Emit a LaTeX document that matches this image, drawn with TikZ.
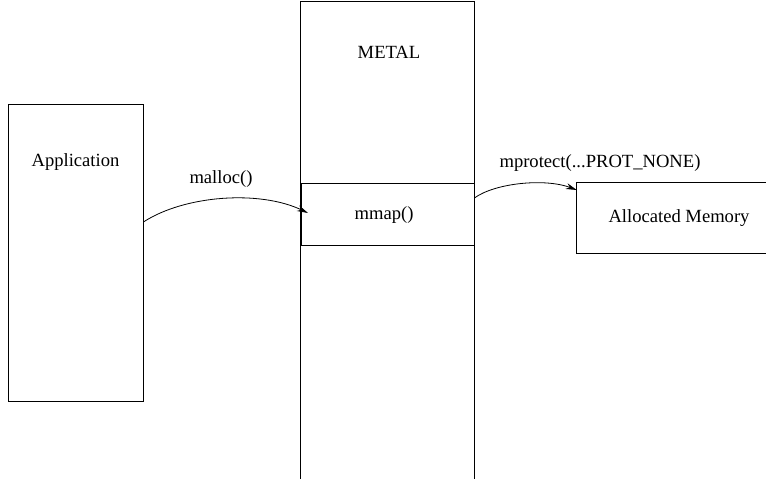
\documentclass[tikz,border=0pt]{standalone}
\usepackage{fontspec}
\setmainfont{Liberation Serif}
\usetikzlibrary{arrows.meta}
\begin{document}
\begin{tikzpicture}[x=1pt,y=-1pt,
  box/.style={draw, line width=0.8pt, inner sep=0pt, rectangle},
  openbox/.style={draw=none, inner sep=0pt, rectangle},
  lbl/.style={inner sep=0pt, font=\fontsize{18.6}{20}\selectfont},
  conn/.style={line width=0.8pt, -{Stealth[length=11pt,width=6pt]}}]
\useasboundingbox (0,0) rectangle (766,479);
% boxes
\node[box, minimum width=135, minimum height=297] (app) at (75.5,252.5) {};
\node[openbox, minimum width=173, minimum height=477] (metal) at (387.5,240.5) {};
\draw[line width=0.8pt] (metal.south west) -- (metal.north west) -- (metal.north east) -- (metal.south east);
\node[box, minimum width=173, minimum height=62] (mmap) at (387.5,214) {};
\node[openbox, minimum width=189, minimum height=70] (mem) at (671.5,218) {};
\draw[line width=0.8pt] (mem.north east) -- (mem.north west) -- (mem.south west) -- (mem.south east);
% texts
\node[lbl] (tapp) at (75.5,162) {Application};
\node[lbl] (tmetal) at (389,52) {METAL};
\node[lbl] (tmmap) at (384,215) {mmap()};
\node[lbl] (tmem) at (679,218) {Allocated Memory};
\node[lbl] (tmalloc) at (221,179) {malloc()};
\node[lbl] (tprot) at (600,163) {mprotect(...PROT\_NONE)};
% connectors
\coordinate (a1) at (app.east |- 0,222);
\coordinate (a2) at (308,213);
\draw[conn] (a1) .. controls (185,195) and (260,190) .. (a2);
\coordinate (b1) at (mmap.east |- 0,198);
\coordinate (b2) at (mem.west |- 0,190);
\draw[conn] (b1) .. controls (495,183) and (545,178) .. (b2);
\end{tikzpicture}
\end{document}
